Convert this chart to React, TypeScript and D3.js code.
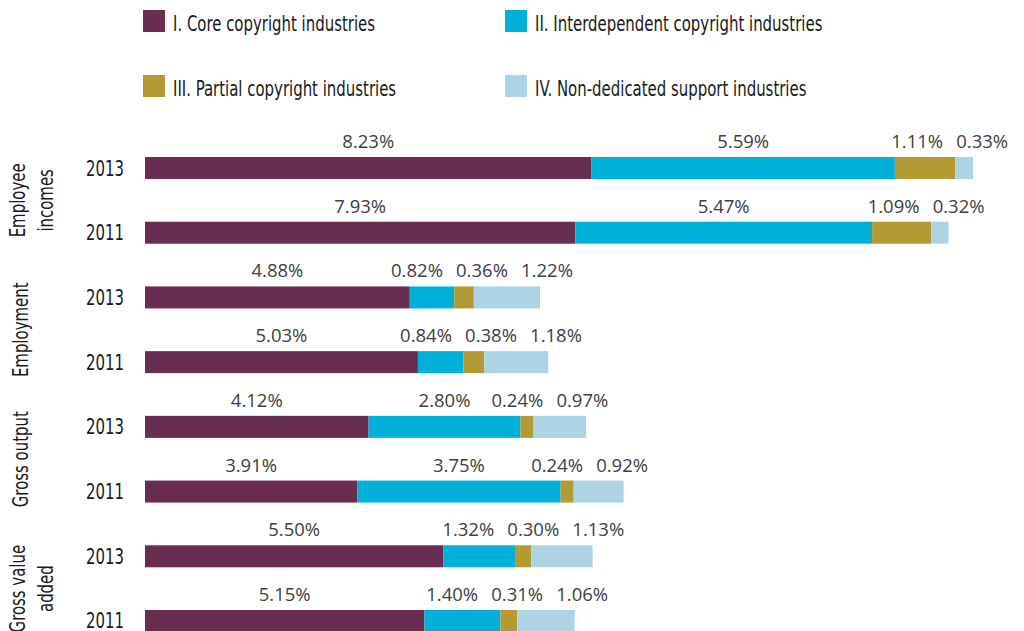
import React from "react";
import * as d3 from "d3";

const seriesKeys = ["core", "interdependent", "partial", "nonDedicated"];
const seriesNames = [
  "I. Core copyright industries",
  "II. Interdependent copyright industries",
  "III. Partial copyright industries",
  "IV. Non-dedicated support industries",
];
const seriesColors = ["#692D52", "#00B0D8", "#B39A32", "#ADD4E4"];

const groups = [["Employee", "incomes"], ["Employment"], ["Gross output"], ["Gross value", "added"]];
const years = ["2013", "2011"];

const coreValues = [8.23, 7.93, 4.88, 5.03, 4.12, 3.91, 5.5, 5.15];
const interdependentValues = [5.59, 5.47, 0.82, 0.84, 2.8, 3.75, 1.32, 1.4];
const partialValues = [1.11, 1.09, 0.36, 0.38, 0.24, 0.24, 0.3, 0.31];
const nonDedicatedValues = [0.33, 0.32, 1.22, 1.18, 0.97, 0.92, 1.13, 1.06];

const W = 1024;
const H = 631;

export default function App() {
  const rows = coreValues.map((_, i) => ({
    id: `r${i}`,
    group: Math.floor(i / 2),
    year: years[i % 2],
    core: coreValues[i],
    interdependent: interdependentValues[i],
    partial: partialValues[i],
    nonDedicated: nonDedicatedValues[i],
  }));

  const stacked = d3.stack<any>().keys(seriesKeys)(rows);
  const maxTotal = d3.max(rows, (r) => r.core + r.interdependent + r.partial + r.nonDedicated) as number;

  const x = d3.scaleLinear().domain([0, maxTotal]).range([145, 973]);
  const y = d3
    .scaleBand<string>()
    .domain(rows.map((r) => r.id))
    .range([157, 632])
    .paddingInner(0.66)
    .paddingOuter(0);
  const bw = y.bandwidth();

  const labelFont = "'Open Sans', 'Noto Sans', sans-serif";
  const minGap = 65;
  const labelPositions = rows.map((r, i) => {
    const xs = stacked.map((s) => (x(s[i][0]) + x(s[i][1])) / 2);
    for (let it = 0; it < 300; it++) {
      for (let k = 1; k < xs.length; k++) {
        const d = xs[k] - xs[k - 1];
        if (d < minGap) {
          const o = minGap - d;
          xs[k - 1] -= o * 0.3;
          xs[k] += o * 0.7;
        }
      }
    }
    return xs;
  });

  const condFont = "'DejaVu Sans Condensed', 'DejaVu Sans', sans-serif";
  const condSize = 20.5;
  const sx = 0.81;

  return (
    <div style={{ position: "absolute", left: 0, top: 0, width: W, height: H, background: "#fff" }}>
      <svg width={W} height={H} viewBox={`0 0 ${W} ${H}`} style={{ display: "block" }}>
        <rect x={0} y={0} width={W} height={H} fill="#fff" />
        {/* Legend */}
        {seriesNames.map((name, i) => {
          const lx = i % 2 === 0 ? 143 : 505;
          const ly = i < 2 ? 10 : 75;
          return (
            <g key={name}>
              <rect x={lx} y={ly} width={22} height={22} fill={seriesColors[i]} />
              <g transform={`translate(${lx + 30},${ly + 21}) scale(${sx},1)`}>
                <text x={0} y={0} fontFamily={condFont} fontSize={condSize} fill="#1a1a1a">
                  {name}
                </text>
              </g>
            </g>
          );
        })}

        {/* Bars */}
        {stacked.map((s, si) => (
          <g key={seriesKeys[si]} fill={seriesColors[si]}>
            {s.map((d, i) => (
              <rect
                key={i}
                x={x(d[0])}
                y={y(rows[i].id)}
                width={x(d[1]) - x(d[0])}
                height={bw}
              />
            ))}
          </g>
        ))}

        {/* Value labels */}
        {rows.map((r, i) =>
          seriesKeys.map((k, si) => (
            <text
              key={`${r.id}-${k}`}
              x={labelPositions[i][si]}
              y={(y(r.id) as number) - 9}
              textAnchor="middle"
              fontFamily={labelFont}
              fontSize={18.5}
              fill="#404040"
            >
              {(r as any)[k].toFixed(2)}%
            </text>
          ))
        )}

        {/* Year labels */}
        {rows.map((r) => (
          <g key={`y-${r.id}`} transform={`translate(124,${(y(r.id) as number) + bw / 2 + 7.5}) scale(${sx},1)`}>
            <text x={0} y={0} textAnchor="end" fontFamily={condFont} fontSize={condSize} fill="#1a1a1a">
              {r.year}
            </text>
          </g>
        ))}

        {/* Group labels */}
        {groups.map((lines, gi) => {
          const y0 = y(rows[gi * 2].id) as number;
          const y1 = y(rows[gi * 2 + 1].id) as number;
          const yc = (y0 + y1) / 2 + bw / 2;
          const baselines = lines.length === 1 ? [28] : [25, 53];
          return lines.map((line, li) => (
            <g key={`g-${gi}-${li}`} transform={`translate(${baselines[li]},${yc}) rotate(-90) scale(${sx},1)`}>
              <text x={0} y={0} textAnchor="middle" fontFamily={condFont} fontSize={condSize} fill="#1a1a1a">
                {line}
              </text>
            </g>
          ));
        })}
      </svg>
    </div>
  );
}
